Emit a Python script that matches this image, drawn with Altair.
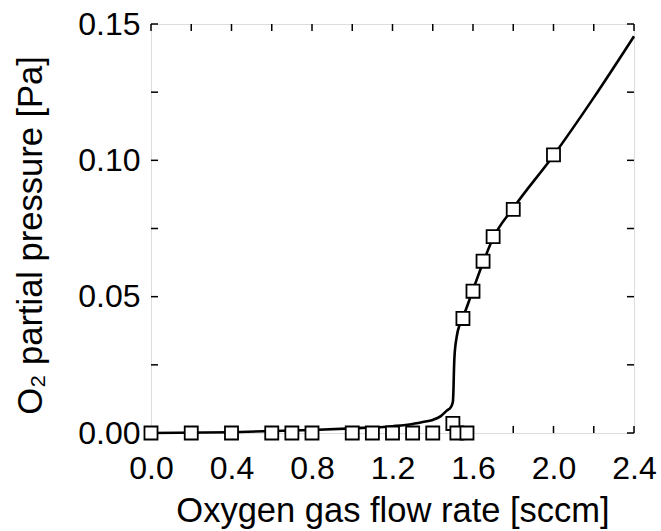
import altair as alt
import pandas as pd

# Measured points (squares)
pts_x = [0.0, 0.2, 0.4, 0.6, 0.7, 0.8, 1.0, 1.1, 1.2, 1.3, 1.4, 1.5, 1.52, 1.57,
         1.55, 1.6, 1.65, 1.7, 1.8, 2.0]
pts_y = [0.0, 0.0, 0.0, 0.0, 0.0, 0.0, 0.0, 0.0, 0.0, 0.0, 0.0, 0.0035, 0.0, 0.0,
         0.042, 0.052, 0.063, 0.072, 0.082, 0.102]

# Fitted curve
curve_x = [0.0, 0.4, 0.8, 1.0, 1.2, 1.3, 1.35, 1.4, 1.44, 1.47, 1.49, 1.5, 1.503,
           1.505, 1.508, 1.519, 1.535, 1.55, 1.6, 1.65, 1.7, 1.8, 2.0, 2.2, 2.4]
curve_y = [0.0, 0.0003, 0.0011, 0.0017, 0.0025, 0.0033, 0.004, 0.0048, 0.0062, 0.0082,
           0.0095, 0.0115, 0.016, 0.022, 0.028, 0.0353, 0.040, 0.0425, 0.0525, 0.0625,
           0.0715, 0.0825, 0.1018, 0.123, 0.1455]

x_ticks = [0.0, 0.2, 0.4, 0.6, 0.8, 1.0, 1.2, 1.4, 1.6, 1.8, 2.0, 2.2, 2.4]
y_ticks = [0.0, 0.025, 0.05, 0.075, 0.1, 0.125, 0.15]

W, H = 483, 409
TL = 7
FONT = "Liberation Sans"

pts = pd.DataFrame({"x": pts_x, "y": pts_y})
curve = pd.DataFrame({"x": curve_x, "y": curve_y})
xt = pd.DataFrame({"v": x_ticks})
yt = pd.DataFrame({"v": y_ticks})

xscale = alt.Scale(domain=[0, 2.4], nice=False, zero=False)
yscale = alt.Scale(domain=[0, 0.15], nice=False, zero=False)

xaxis = alt.Axis(
    title="Oxygen gas flow rate [sccm]",
    values=x_ticks,
    labelExpr="round(datum.value*10) % 4 == 0 ? format(datum.value, '.1f') : ''",
    ticks=False, domain=False, grid=False,
    labelPadding=20, titlePadding=10,
    labelFont=FONT, titleFont=FONT, labelFontSize=32, titleFontSize=34.5,
    titleFontWeight="normal", labelColor="black", titleColor="black",
    labelFlush=False,
)
yaxis = alt.Axis(
    title="O₂ partial pressure [Pa]",
    values=[0.0, 0.05, 0.1, 0.15],
    format=".2f",
    ticks=False, domain=False, grid=False,
    labelPadding=11, titlePadding=29, titleY=211,
    labelFont=FONT, titleFont=FONT, labelFontSize=32, titleFontSize=34.5,
    titleFontWeight="normal", labelColor="black", titleColor="black",
    labelFlush=False,
)

line = alt.Chart(curve).mark_line(
    color="black", strokeWidth=2.6, interpolate="monotone"
).encode(
    x=alt.X("x:Q", scale=xscale, axis=xaxis),
    y=alt.Y("y:Q", scale=yscale, axis=yaxis),
)

points = alt.Chart(pts).mark_point(
    shape="square", size=170, filled=True, fill="white", stroke="black",
    strokeWidth=1.8, opacity=1
).encode(
    x=alt.X("x:Q", scale=xscale),
    y=alt.Y("y:Q", scale=yscale),
)

tb = alt.Chart(xt).mark_rule(color="black", strokeWidth=1.5).encode(
    x=alt.X("v:Q", scale=xscale), y=alt.value(H), y2=alt.value(H - TL))
tt = alt.Chart(xt).mark_rule(color="black", strokeWidth=1.5).encode(
    x=alt.X("v:Q", scale=xscale), y=alt.value(0), y2=alt.value(TL))
tl = alt.Chart(yt).mark_rule(color="black", strokeWidth=1.5).encode(
    y=alt.Y("v:Q", scale=yscale), x=alt.value(0), x2=alt.value(TL))
tr = alt.Chart(yt).mark_rule(color="black", strokeWidth=1.5).encode(
    y=alt.Y("v:Q", scale=yscale), x=alt.value(W), x2=alt.value(W - TL))

chart = alt.layer(tb, tt, tl, tr, line, points).properties(
    width=W, height=H,
    autosize=alt.AutoSizeParams(type="none"),
    padding={"left": 151, "top": 24, "right": 27, "bottom": 98},
).configure_view(
    stroke="black", strokeWidth=2
).configure(background="white")

chart.save("out.html", embed_options={"renderer": "svg", "actions": False})
